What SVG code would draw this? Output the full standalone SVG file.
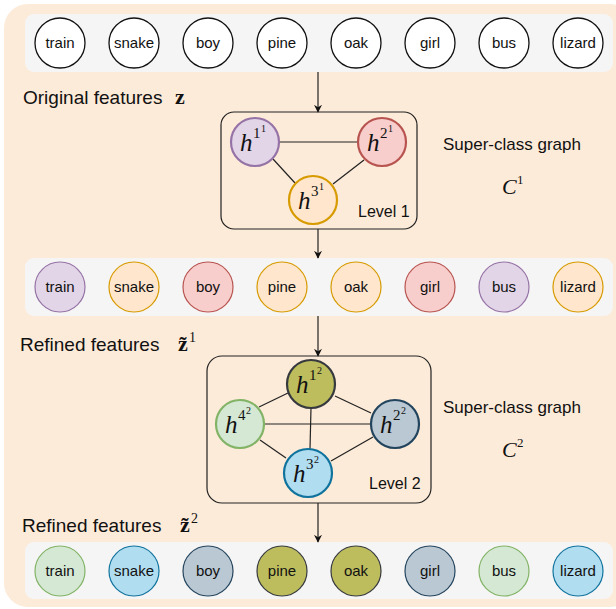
<svg xmlns="http://www.w3.org/2000/svg" width="616" height="609" viewBox="0 0 616 609">
<style>
.lbl{font-family:"Liberation Sans",Arial,sans-serif;font-size:15px;fill:#111;text-anchor:middle}
.cap{font-family:"Liberation Sans",Arial,sans-serif;font-size:19px;fill:#111}
.sc{font-family:"Liberation Sans",Arial,sans-serif;font-size:17px;fill:#111}
.lev{font-family:"Liberation Sans",Arial,sans-serif;font-size:16px;fill:#111}
.m{font-family:"Liberation Serif","Times New Roman",serif;font-style:italic;fill:#111}
.n{font-family:"Liberation Serif","Times New Roman",serif;fill:#111}
.bz{font-family:"Liberation Serif","Times New Roman",serif;font-weight:bold;fill:#111}
.strip{fill:#f5f5f5}
.edge{stroke:#222;stroke-width:1.2;fill:none}
.arr{stroke:#222;stroke-width:1.2;fill:none;marker-end:url(#ah)}
.box{fill:none;stroke:#222;stroke-width:1.2}
.w{fill:#fff;stroke:#111;stroke-width:1.3}
.pu{fill:#e1d5e7;stroke:#9673a6}
.re{fill:#f8cecc;stroke:#b85450}
.or{fill:#ffe6cc;stroke:#d79b00}
.gr{fill:#d5e8d4;stroke:#82b366}
.bl{fill:#b1ddf0;stroke:#10739e}
.gb{fill:#bac8d3;stroke:#23445d}
.ol{fill:#bdbd5e;stroke:#36393d}
.s1 circle{stroke-width:1.2}
.big{stroke-width:2.2}
</style>
<defs>
<marker id="ah" viewBox="0 0 10 10" refX="9" refY="5" markerWidth="8" markerHeight="8" markerUnits="userSpaceOnUse" orient="auto">
<path d="M0,0 L10,5 L0,10 L3,5 Z" fill="#111"/>
</marker>
</defs>
<rect x="4" y="4" width="630" height="603" rx="24" fill="#fdebd9"/>
<rect class="strip" x="25" y="14" width="588" height="58" rx="9"/>
<rect class="strip" x="25" y="258" width="588" height="58" rx="9"/>
<rect class="strip" x="25" y="542" width="588" height="57" rx="9"/>

<g id="connectors">
<line class="arr" x1="318" y1="72" x2="318" y2="112"/>
<line class="arr" x1="318" y1="229" x2="318" y2="258"/>
<line class="arr" x1="318" y1="316" x2="318" y2="356"/>
<line class="arr" x1="318" y1="503" x2="318" y2="542"/>
<line class="edge" x1="279" y1="142" x2="358" y2="142"/>
<line class="edge" x1="273" y1="159" x2="295" y2="183"/>
<line class="edge" x1="364" y1="160" x2="333" y2="184"/>
<line class="edge" x1="288" y1="393" x2="259" y2="407"/>
<line class="edge" x1="335" y1="396" x2="371" y2="413"/>
<line class="edge" x1="311" y1="408" x2="310" y2="449"/>
<line class="edge" x1="264" y1="424" x2="371" y2="424"/>
<line class="edge" x1="260" y1="440" x2="286" y2="458"/>
<line class="edge" x1="373" y1="437" x2="331" y2="461"/>
</g>

<g id="row1">
<g id="r1-train"><circle class="w" cx="60" cy="43" r="25"/><text class="lbl" x="60" y="48">train</text></g>
<g id="r1-snake"><circle class="w" cx="134" cy="43" r="25"/><text class="lbl" x="134" y="48">snake</text></g>
<g id="r1-boy"><circle class="w" cx="208" cy="43" r="25"/><text class="lbl" x="208" y="48">boy</text></g>
<g id="r1-pine"><circle class="w" cx="282" cy="43" r="25"/><text class="lbl" x="282" y="48">pine</text></g>
<g id="r1-oak"><circle class="w" cx="356" cy="43" r="25"/><text class="lbl" x="356" y="48">oak</text></g>
<g id="r1-girl"><circle class="w" cx="430" cy="43" r="25"/><text class="lbl" x="430" y="48">girl</text></g>
<g id="r1-bus"><circle class="w" cx="504" cy="43" r="25"/><text class="lbl" x="504" y="48">bus</text></g>
<g id="r1-lizard"><circle class="w" cx="578" cy="43" r="25"/><text class="lbl" x="578" y="48">lizard</text></g>
</g>

<g id="row2" class="s1">
<g id="r2-train"><circle class="pu" cx="60" cy="287" r="25"/><text class="lbl" x="60" y="292">train</text></g>
<g id="r2-snake"><circle class="or" cx="134" cy="287" r="25"/><text class="lbl" x="134" y="292">snake</text></g>
<g id="r2-boy"><circle class="re" cx="208" cy="287" r="25"/><text class="lbl" x="208" y="292">boy</text></g>
<g id="r2-pine"><circle class="or" cx="282" cy="287" r="25"/><text class="lbl" x="282" y="292">pine</text></g>
<g id="r2-oak"><circle class="or" cx="356" cy="287" r="25"/><text class="lbl" x="356" y="292">oak</text></g>
<g id="r2-girl"><circle class="re" cx="430" cy="287" r="25"/><text class="lbl" x="430" y="292">girl</text></g>
<g id="r2-bus"><circle class="pu" cx="504" cy="287" r="25"/><text class="lbl" x="504" y="292">bus</text></g>
<g id="r2-lizard"><circle class="or" cx="578" cy="287" r="25"/><text class="lbl" x="578" y="292">lizard</text></g>
</g>

<g id="row3" class="s1">
<g id="r3-train"><circle class="gr" cx="60" cy="571" r="25"/><text class="lbl" x="60" y="576">train</text></g>
<g id="r3-snake"><circle class="bl" cx="134" cy="571" r="25"/><text class="lbl" x="134" y="576">snake</text></g>
<g id="r3-boy"><circle class="gb" cx="208" cy="571" r="25"/><text class="lbl" x="208" y="576">boy</text></g>
<g id="r3-pine"><circle class="ol" cx="282" cy="571" r="25"/><text class="lbl" x="282" y="576">pine</text></g>
<g id="r3-oak"><circle class="ol" cx="356" cy="571" r="25"/><text class="lbl" x="356" y="576">oak</text></g>
<g id="r3-girl"><circle class="gb" cx="430" cy="571" r="25"/><text class="lbl" x="430" y="576">girl</text></g>
<g id="r3-bus"><circle class="gr" cx="504" cy="571" r="25"/><text class="lbl" x="504" y="576">bus</text></g>
<g id="r3-lizard"><circle class="bl" cx="578" cy="571" r="25"/><text class="lbl" x="578" y="576">lizard</text></g>
</g>

<g id="caption1"><text class="cap" x="23" y="104">Original features</text><text class="bz" x="175" y="104" font-size="22">z</text></g>
<g id="caption2"><text class="cap" x="20" y="351">Refined features</text><text class="bz" x="178" y="351" font-size="22">z&#x303;</text><text class="n" x="189" y="342" font-size="14">1</text></g>
<g id="caption3"><text class="cap" x="22" y="532">Refined features</text><text class="bz" x="180" y="532" font-size="22">z&#x303;</text><text class="n" x="191" y="523" font-size="14">2</text></g>

<g id="level1">
<rect class="box" x="221" y="112" width="196" height="117" rx="13"/>
<text class="lev" x="358" y="217">Level 1</text>
</g>
<g id="h1-1"><circle class="pu big" cx="255" cy="142" r="24"/><text class="m" x="240" y="151" font-size="25">h</text><text class="n" x="253" y="138" font-size="15">1</text><text class="n" x="261" y="132" font-size="10">1</text></g>
<g id="h2-1"><circle class="re big" cx="382" cy="142" r="24"/><text class="m" x="367" y="151" font-size="25">h</text><text class="n" x="380" y="138" font-size="15">2</text><text class="n" x="388" y="132" font-size="10">1</text></g>
<g id="h3-1"><circle class="or big" cx="313" cy="200" r="24"/><text class="m" x="298" y="209" font-size="25">h</text><text class="n" x="311" y="196" font-size="15">3</text><text class="n" x="319" y="190" font-size="10">1</text></g>
<g id="sc1"><text class="sc" x="443" y="150">Super-class graph</text><text class="m" x="502" y="194" font-size="22">C</text><text class="n" x="517" y="184" font-size="13">1</text></g>

<g id="level2">
<rect class="box" x="207" y="356" width="224" height="147" rx="15"/>
<text class="lev" x="369" y="489">Level 2</text>
</g>
<g id="h1-2"><circle class="ol big" cx="311" cy="384" r="24"/><text class="m" x="296" y="393" font-size="25">h</text><text class="n" x="309" y="380" font-size="15">1</text><text class="n" x="317" y="374" font-size="10">2</text></g>
<g id="h2-2"><circle class="gb big" cx="395" cy="424" r="24"/><text class="m" x="380" y="433" font-size="25">h</text><text class="n" x="393" y="420" font-size="15">2</text><text class="n" x="401" y="414" font-size="10">2</text></g>
<g id="h3-2"><circle class="bl big" cx="308" cy="473" r="24"/><text class="m" x="293" y="482" font-size="25">h</text><text class="n" x="306" y="469" font-size="15">3</text><text class="n" x="314" y="463" font-size="10">2</text></g>
<g id="h4-2"><circle class="gr big" cx="240" cy="424" r="24"/><text class="m" x="225" y="433" font-size="25">h</text><text class="n" x="238" y="420" font-size="15">4</text><text class="n" x="246" y="414" font-size="10">2</text></g>
<g id="sc2"><text class="sc" x="443" y="413">Super-class graph</text><text class="m" x="502" y="457" font-size="22">C</text><text class="n" x="517" y="447" font-size="13">2</text></g>
</svg>
